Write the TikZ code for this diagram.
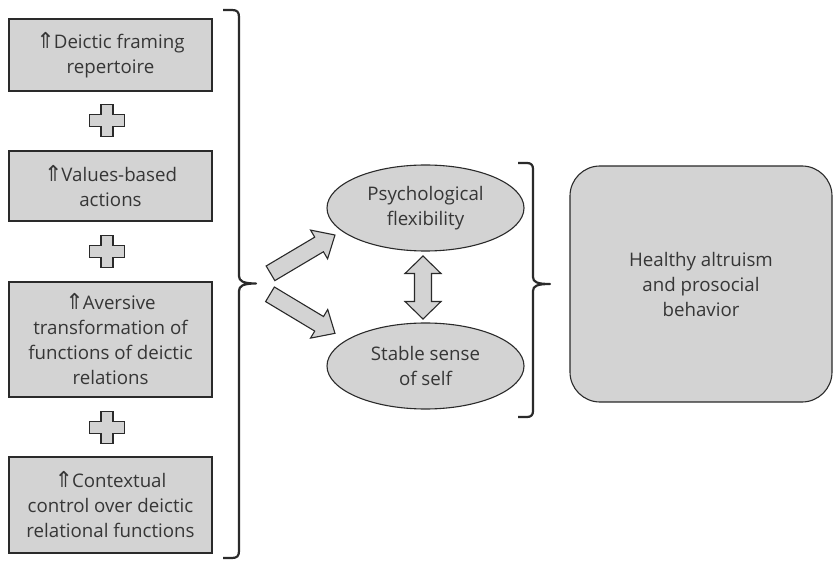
\documentclass[tikz,border=0pt]{standalone}
\usepackage{fontspec}
\setmainfont{Open Sans}
\newfontfamily\arrowfont{DejaVu Sans}
\usetikzlibrary{shapes.geometric}
\definecolor{boxfill}{HTML}{D3D3D3}
\definecolor{edge}{HTML}{2A2A2A}
\definecolor{ink}{HTML}{363636}
\newcommand{\upmark}{{\arrowfont\fontsize{22}{24}\selectfont ⇑}\kern-1pt}

\tikzset{
  solidshape/.style={draw=edge, line width=1.1pt, fill=boxfill, line join=miter},
  bracket/.style={draw=edge, line width=2.2pt, line cap=butt, line join=round},
  % fat arrow along +x, tail centre at the origin, #1 = overall length
  blockarrow/.pic={
    \draw[solidshape] (0,-8.5) -- ({#1-18.5},-8.5) -- ({#1-18.5},-16.7) -- (#1,0)
      -- ({#1-18.5},16.7) -- ({#1-18.5},8.5) -- (0,8.5) -- cycle;
  },
  % vertical two-headed fat arrow centred at the origin
  twowayarrow/.pic={
    \draw[solidshape] (0,-31.5) -- (18,-14) -- (8.5,-14) -- (8.5,14) -- (18,14)
      -- (0,31.5) -- (-18,14) -- (-8.5,14) -- (-8.5,-14) -- (-18,-14) -- cycle;
  },
  % plus sign joining two factors
  plussign/.pic={
    \draw[solidshape] (-6,-16.2) -- (6,-16.2) -- (6,-6) -- (17.3,-6) -- (17.3,6)
      -- (6,6) -- (6,16.2) -- (-6,16.2) -- (-6,6) -- (-17.3,6) -- (-17.3,-6)
      -- (-6,-6) -- cycle;
  }
}

\begin{document}
\begin{tikzpicture}[x=1pt, y=-1pt,
  every node/.style={text=ink, font=\fontsize{18.7}{25}\selectfont, align=center, inner sep=0pt},
  factor/.style={rectangle, draw=edge, line width=1.1pt, fill=boxfill, minimum width=203pt},
  state/.style={ellipse, draw=edge, line width=1.1pt, fill=boxfill, minimum width=197pt, minimum height=86pt},
  outcome/.style={rectangle, rounded corners=30pt, draw=edge, line width=1.1pt, fill=boxfill,
    minimum width=262pt, minimum height=236pt}]
\useasboundingbox (0,0) rectangle (833,561);

% deictic factors
\node[factor, minimum height=72pt] (f1) at (110.5,55) {\upmark Deictic framing\\repertoire};
\node[factor, minimum height=70pt] (f2) at (110.5,186) {\upmark Values-based\\actions};
\node[factor, minimum height=115pt] (f3) at (110.5,339.5) {\upmark Aversive\\transformation of\\functions of deictic\\relations};
\node[factor, minimum height=96pt] (f4) at (110.5,505) {\upmark Contextual\\control over deictic\\relational functions};

\pic at (107,120.5) {plussign};
\pic at (107,251.5) {plussign};
\pic at (107,427.5) {plussign};

% left bracket
\draw[bracket] (223,10) -- (232,10) .. controls (237,10) and (239,12) .. (239,17)
  -- (239,276) .. controls (239,281) and (243,283.5) .. (256,283.5)
  .. controls (243,283.5) and (239,286) .. (239,291)
  -- (239,551) .. controls (239,556) and (237,558) .. (232,558) -- (223,558);

% processes
\node[state] (flex) at (425.5,208) {Psychological\\flexibility};
\node[state] (self) at (425.5,366) {Stable sense\\of self};

\pic[rotate=30.7] at (270.5,273.3) {blockarrow=75};
\pic[rotate=-31] at (270,294.3) {blockarrow=75.8};
\pic at (423,287.5) {twowayarrow};

% right bracket
\draw[bracket] (518,163) -- (527,163) .. controls (531,163) and (533,165) .. (533,169)
  -- (533,277) .. controls (533,282) and (537,284) .. (550,284)
  .. controls (537,284) and (533,286) .. (533,291)
  -- (533,411) .. controls (533,415) and (531,417) .. (527,417) -- (518,417);

% outcome
\node[outcome] (goal) at (701,284) {Healthy altruism\\and prosocial\\behavior};
\end{tikzpicture}
\end{document}
